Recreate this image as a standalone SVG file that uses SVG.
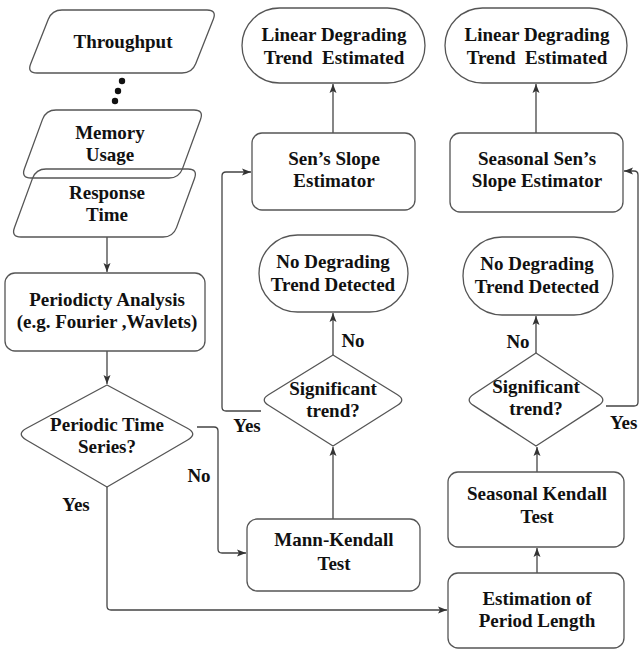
<svg xmlns="http://www.w3.org/2000/svg" width="640" height="649" viewBox="0 0 640 649">
<style>
.s{fill:#fff;stroke:#555;stroke-width:1.3;stroke-linejoin:round}
.o{fill:none;stroke:#555;stroke-width:1.3;stroke-linejoin:round}
.t{font-family:"Liberation Serif","Times New Roman",serif;font-weight:bold;font-size:19px;fill:#111;text-anchor:middle}
.c{fill:none;stroke:#444;stroke-width:1.3}
</style>
<defs>
<marker id="ah" markerWidth="10" markerHeight="8" refX="9" refY="4" orient="auto" markerUnits="userSpaceOnUse">
<path d="M0,0.5 L9,4 L0,7.5 L2,4 Z" fill="#333"/>
</marker>
</defs>
<rect width="640" height="649" fill="#fff"/>

<g id="connectors">
<path class="c" d="M107,237 L107,272" marker-end="url(#ah)"/>
<path class="c" d="M107,351 L107,384" marker-end="url(#ah)"/>
<path class="c" d="M197,427 L214,427 Q218,427 218,431 L218,549 Q218,553 222,553 L246,553" marker-end="url(#ah)"/>
<path class="c" d="M107,487 L107,606 Q107,610 111,610 L447,610" marker-end="url(#ah)"/>
<path class="c" d="M333,519 L333,447" marker-end="url(#ah)"/>
<path class="c" d="M333,355 L333,313" marker-end="url(#ah)"/>
<path class="c" d="M261,411 L226,411 Q222,411 222,407 L222,176 Q222,172 226,172 L251,172" marker-end="url(#ah)"/>
<path class="c" d="M333,133 L333,84" marker-end="url(#ah)"/>
<path class="c" d="M537,573 L537,548" marker-end="url(#ah)"/>
<path class="c" d="M537,472 L537,447" marker-end="url(#ah)"/>
<path class="c" d="M536,353 L536,316" marker-end="url(#ah)"/>
<path class="c" d="M606,406 L634,406 Q638,406 638,402 L638,175 Q638,171 634,171 L624,171" marker-end="url(#ah)"/>
<path class="c" d="M536,133 L536,84" marker-end="url(#ah)"/>
</g>

<g id="throughput">
<path class="o" d="M62,10 L207,10 Q217,10 213.3,19.3 L195.7,63.7 Q192,73 182,73 L37,73 Q27,73 30.7,63.7 L48.3,19.3 Q52,10 62,10 Z"/>
<text class="t" x="123" y="48">Throughput</text>
</g>
<g id="dots">
<circle cx="122" cy="81" r="3.2" fill="#111"/>
<circle cx="118" cy="91" r="3.2" fill="#111"/>
<circle cx="115" cy="101" r="3.2" fill="#111"/>
</g>
<g id="memory">
<path class="o" d="M56,110 L194,110 Q204,110 200.5,119.4 L182.5,168.6 Q179,178 169,178 L31,178 Q21,178 24.5,168.6 L42.5,119.4 Q46,110 56,110 Z"/>
<text class="t" x="110" y="139">Memory</text>
<text class="t" x="110" y="161">Usage</text>
</g>
<g id="response">
<path class="o" d="M46,169 L188,169 Q198,169 194.5,178.4 L176.5,227.6 Q173,237 163,237 L21,237 Q11,237 14.5,227.6 L32.5,178.4 Q36,169 46,169 Z"/>
<text class="t" x="107" y="199">Response</text>
<text class="t" x="107" y="221">Time</text>
</g>
<g id="periodicity">
<rect class="s" x="5" y="273" width="200" height="78" rx="10"/>
<text class="t" x="107" y="306">Periodicty Analysis</text>
<text class="t" x="107" y="328">(e.g. Fourier ,Wavlets)</text>
</g>
<g id="periodic">
<path class="s" d="M107,385 L187.4,428.3 Q198,434 187.6,440 L107,487 L26.4,440 Q16,434 26.6,428.3 Z"/>
<text class="t" x="107" y="431">Periodic Time</text>
<text class="t" x="107" y="453">Series?</text>
</g>
<g id="mann">
<rect class="s" x="247" y="519" width="173" height="72" rx="10"/>
<text class="t" x="334" y="546">Mann-Kendall</text>
<text class="t" x="334" y="570">Test</text>
</g>
<g id="sig1">
<path class="s" d="M333,355 L397.5,394.8 Q406,400 397.5,405.3 L333,446 L268.5,405.3 Q260,400 268.5,394.8 Z"/>
<text class="t" x="333" y="395">Significant</text>
<text class="t" x="333" y="417">trend?</text>
</g>
<g id="nodeg1">
<rect class="s" x="259" y="235" width="149" height="77" rx="38.5"/>
<text class="t" x="333" y="268">No Degrading</text>
<text class="t" x="333" y="291">Trend Detected</text>
</g>
<g id="sens">
<rect class="s" x="252" y="133" width="163" height="77" rx="10"/>
<text class="t" x="334" y="165">Sen’s Slope</text>
<text class="t" x="334" y="187">Estimator</text>
</g>
<g id="linear1">
<rect class="s" x="242" y="8" width="183" height="75" rx="37.5"/>
<text class="t" x="334" y="41">Linear Degrading</text>
<text class="t" x="334" y="64" xml:space="preserve">Trend  Estimated</text>
</g>
<g id="estimation">
<rect class="s" x="448" y="573" width="176" height="75" rx="10"/>
<text class="t" x="537" y="605">Estimation of</text>
<text class="t" x="537" y="627">Period Length</text>
</g>
<g id="skendall">
<rect class="s" x="448" y="472" width="176" height="75" rx="10"/>
<text class="t" x="537" y="500">Seasonal Kendall</text>
<text class="t" x="537" y="523">Test</text>
</g>
<g id="sig2">
<path class="s" d="M536,353 L598.7,394.5 Q607,400 598.6,405.4 L536,446 L473.4,405.4 Q465,400 473.3,394.5 Z"/>
<text class="t" x="536" y="393">Significant</text>
<text class="t" x="536" y="415">trend?</text>
</g>
<g id="nodeg2">
<rect class="s" x="463" y="237" width="150" height="78" rx="39"/>
<text class="t" x="537" y="270">No Degrading</text>
<text class="t" x="537" y="293">Trend Detected</text>
</g>
<g id="ssens">
<rect class="s" x="450" y="133" width="173" height="79" rx="10"/>
<text class="t" x="537" y="165">Seasonal Sen’s</text>
<text class="t" x="537" y="187">Slope Estimator</text>
</g>
<g id="linear2">
<rect class="s" x="445" y="8" width="182" height="75" rx="37.5"/>
<text class="t" x="537" y="41">Linear Degrading</text>
<text class="t" x="537" y="64" xml:space="preserve">Trend  Estimated</text>
</g>

<g id="labels">
<text class="t" x="199" y="482">No</text>
<text class="t" x="76" y="511">Yes</text>
<text class="t" x="247" y="432">Yes</text>
<text class="t" x="353" y="347">No</text>
<text class="t" x="518" y="348">No</text>
<text class="t" x="610" y="429" style="text-anchor:start">Yes</text>
</g>
</svg>
